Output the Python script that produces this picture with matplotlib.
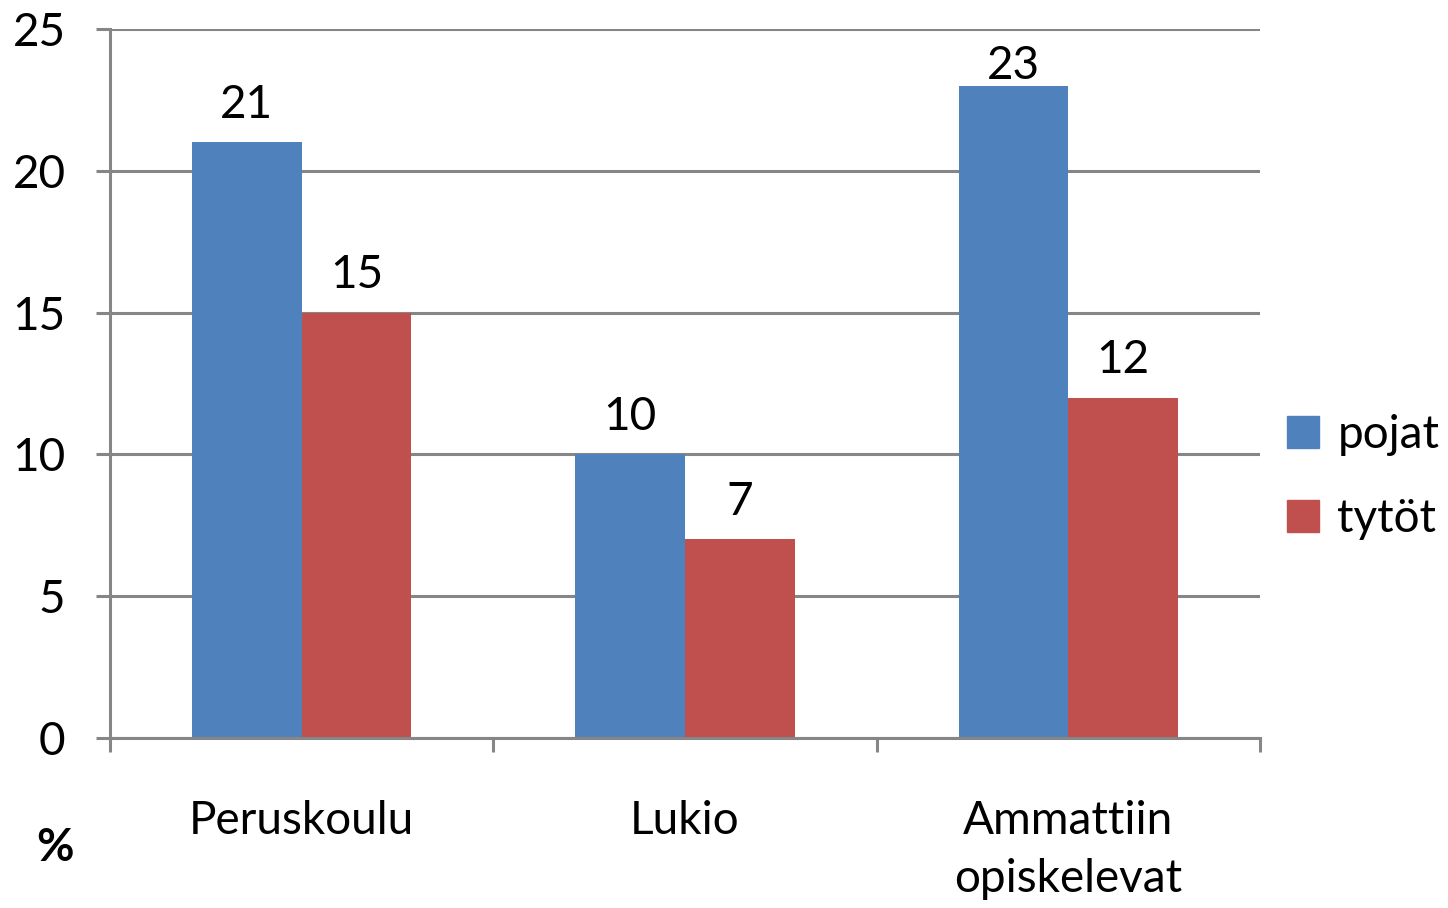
import numpy as np
import matplotlib.pyplot as plt
from matplotlib.patches import Patch

categories = ['Peruskoulu', 'Lukio', 'Ammattiin\nopiskelevat']
pojat = [21, 10, 23]
tytot = [15, 7, 12]
series_names = ['pojat', 'tytöt']
colors = ['#4F81BD', '#C0504D']
grid_col = '#868686'

plt.rcParams['font.family'] = ['Lato', 'DejaVu Sans']
fs = 33

fig = plt.figure(figsize=(14.48, 9.08), dpi=100)
ax = fig.add_axes([110 / 1448, 1 - 738 / 908, 1150 / 1448, 709 / 908])

x = np.arange(len(categories))
w = 0.286
b1 = ax.bar(x - w / 2, pojat, w, color=colors[0], zorder=3)
b2 = ax.bar(x + w / 2, tytot, w, color=colors[1], zorder=3)

ymax = 25
for bars in (b1, b2):
    for r in bars:
        h = r.get_height()
        # labels near the top get pushed down to stay inside the plot area
        off = 12 if h < 22 else -1
        ax.annotate(f'{int(h)}', (r.get_x() + r.get_width() / 2, h),
                    xytext=(0, off), textcoords='offset points', ha='center', va='bottom',
                    fontsize=fs)

ax.set_xlim(-0.5, 2.5)
ax.set_ylim(0, ymax)
ax.set_yticks(range(0, 26, 5))
ax.yaxis.grid(True, color=grid_col, linewidth=2.2, zorder=0)

ax.set_xticks([-0.5, 0.5, 1.5, 2.5])
ax.set_xticklabels([])
ax.set_xticks(x, categories, minor=True)
for lbl in ax.get_xticklabels(minor=True):
    lbl.set_linespacing(1.45)
ax.tick_params(axis='x', which='major', length=10, width=2.2, color=grid_col, direction='out')
ax.tick_params(axis='x', which='minor', length=0, pad=45, labelsize=fs)
ax.tick_params(axis='y', length=10, width=2.2, color=grid_col, pad=22, labelsize=fs)

for s in ['top', 'right']:
    ax.spines[s].set_visible(False)
for s in ['left', 'bottom']:
    ax.spines[s].set_color(grid_col)
    ax.spines[s].set_linewidth(2.2)
    ax.spines[s].set_zorder(4)

fig.text(55 / 1448, 1 - 848 / 908, '%', fontsize=fs, fontweight='bold', ha='center', va='center')

handles = [Patch(color=c) for c in colors]
fig.legend(handles, series_names, loc='center left', bbox_to_anchor=(1287 / 1448, 1 - 477 / 908),
           frameon=False, fontsize=fs, handlelength=0.7, handleheight=0.7,
           handletextpad=0.4, labelspacing=0.9, borderpad=0, borderaxespad=0)

fig.savefig('out.png', dpi=100)
